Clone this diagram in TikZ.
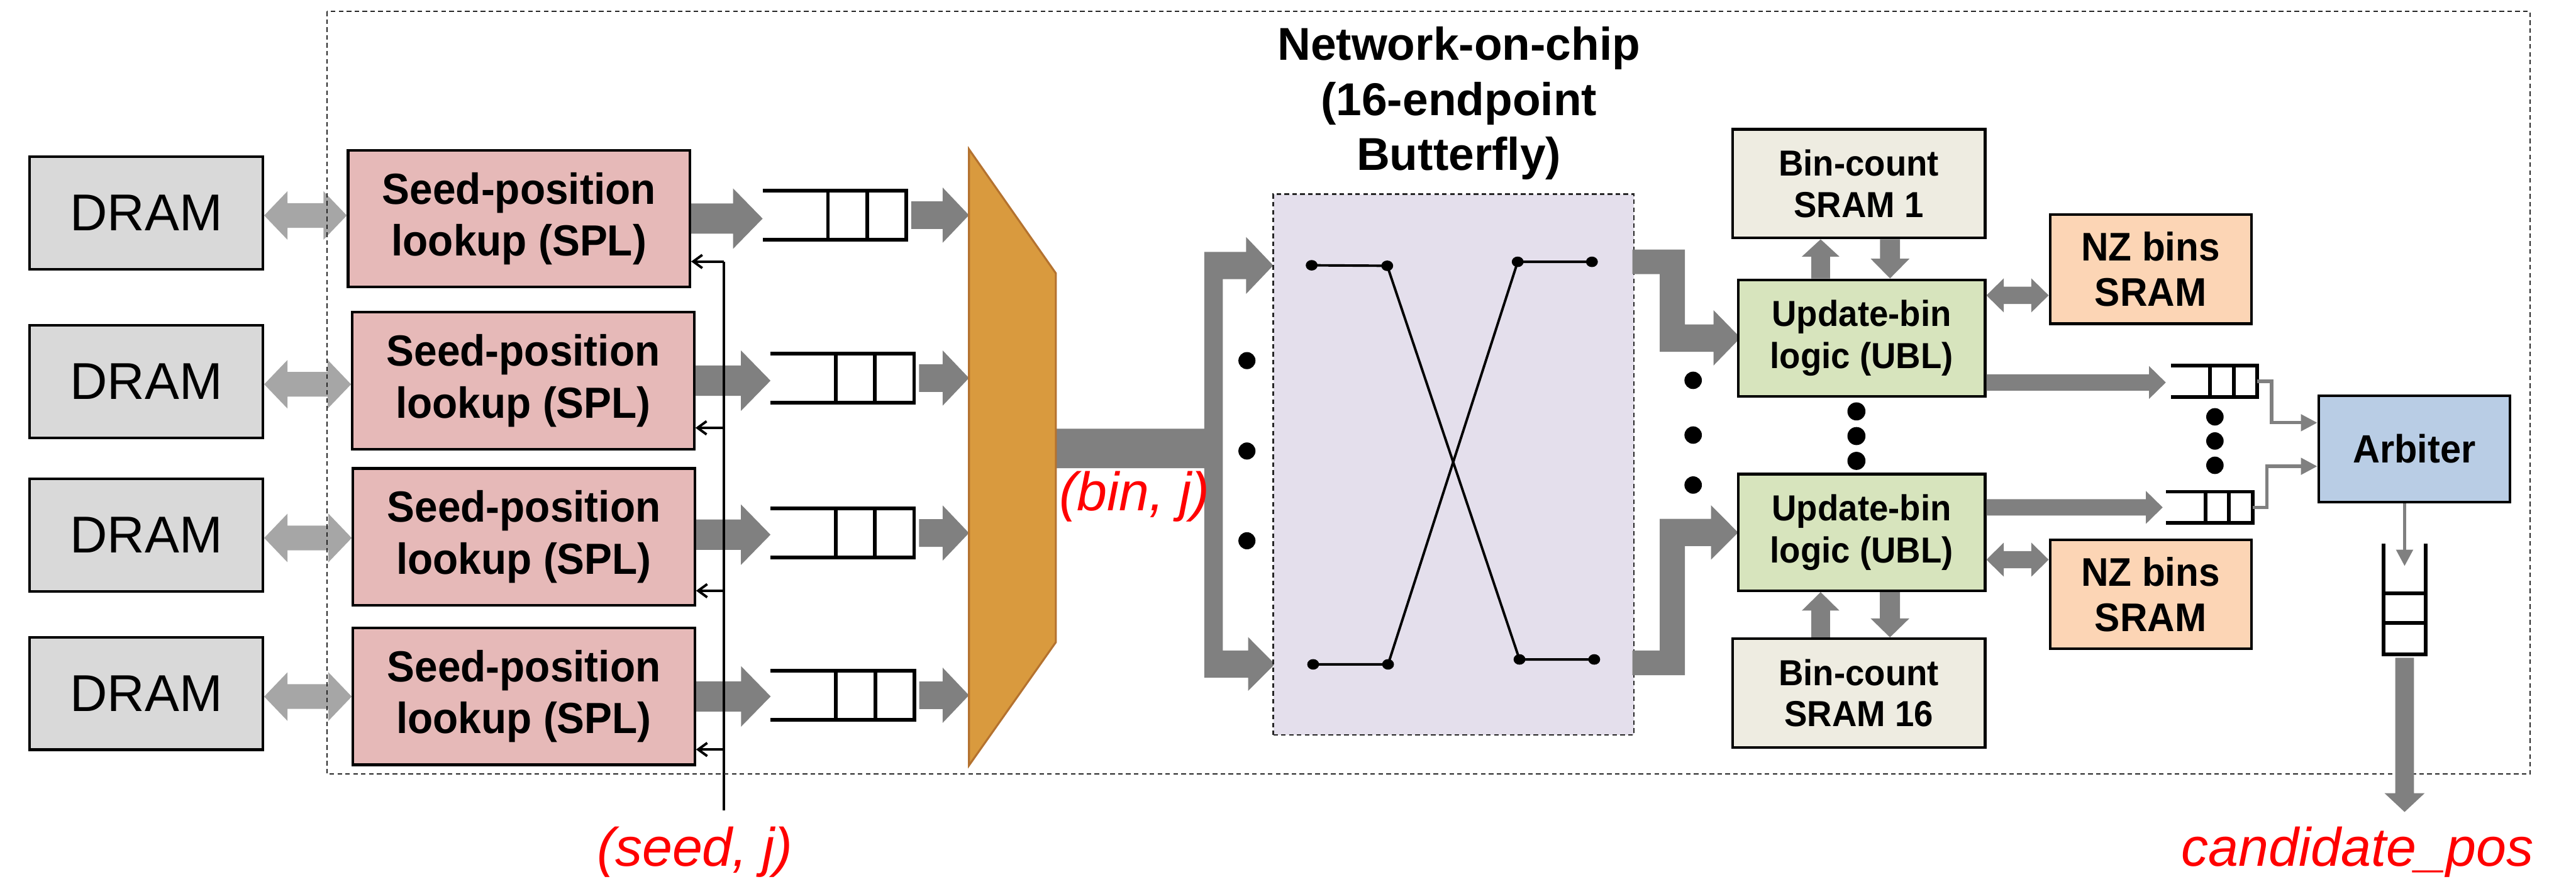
\documentclass[tikz,border=0pt]{standalone}
\usepackage{fontspec}
\setmainfont{Liberation Sans}
\newfontfamily\condf[FakeStretch=0.95]{Liberation Sans}
\usetikzlibrary{calc,arrows.meta}
\definecolor{dramc}{HTML}{D9D9D9}
\definecolor{splc}{HTML}{E6B9B8}
\definecolor{muxc}{HTML}{D99A3E}
\definecolor{muxd}{HTML}{B4722F}
\definecolor{nocc}{HTML}{E4DFEC}
\definecolor{binc}{HTML}{EEECE1}
\definecolor{ublc}{HTML}{D7E4BD}
\definecolor{nzc}{HTML}{FCD5B5}
\definecolor{arbc}{HTML}{B9CDE5}
\definecolor{dk}{HTML}{808080}
\definecolor{lt}{HTML}{A6A6A6}
% right-pointing block arrow: style, from, to, half shaft, half head, head length
\newcommand\rarrow[6]{\fill[#1] let \p1=#2, \p2=#3 in
  (\x1,\y1+#4pt) -- (\x2-#6pt,\y1+#4pt) -- (\x2-#6pt,\y1+#5pt) -- (\x2,\y1) --
  (\x2-#6pt,\y1-#5pt) -- (\x2-#6pt,\y1-#4pt) -- (\x1,\y1-#4pt) -- cycle;}
% double-headed horizontal block arrow
\newcommand\dharrow[6]{\fill[#1] let \p1=#2, \p2=#3 in
  (\x1,\y1) -- (\x1+#6pt,\y1+#5pt) -- (\x1+#6pt,\y1+#4pt) -- (\x2-#6pt,\y1+#4pt) --
  (\x2-#6pt,\y1+#5pt) -- (\x2,\y1) -- (\x2-#6pt,\y1-#5pt) -- (\x2-#6pt,\y1-#4pt) --
  (\x1+#6pt,\y1-#4pt) -- (\x1+#6pt,\y1-#5pt) -- cycle;}
% upward block arrow
\newcommand\uparr[6]{\fill[#1] let \p1=#2, \p2=#3 in
  (\x1-#4pt,\y1) -- (\x1-#4pt,\y2-#6pt) -- (\x1-#5pt,\y2-#6pt) -- (\x1,\y2) --
  (\x1+#5pt,\y2-#6pt) -- (\x1+#4pt,\y2-#6pt) -- (\x1+#4pt,\y1) -- cycle;}
% downward block arrow
\newcommand\dnarr[6]{\fill[#1] let \p1=#2, \p2=#3 in
  (\x1-#4pt,\y1) -- (\x1-#4pt,\y2+#6pt) -- (\x1-#5pt,\y2+#6pt) -- (\x1,\y2) --
  (\x1+#5pt,\y2+#6pt) -- (\x1+#4pt,\y2+#6pt) -- (\x1+#4pt,\y1) -- cycle;}
% horizontal queue, open on the left
\newcommand\hqueue[1]{%
  \draw[qline] (#1.north west) -- (#1.north east) -- (#1.south east) -- (#1.south west);
  \draw[qline] ($(#1.north west)!0.455!(#1.north east)$) -- ($(#1.south west)!0.455!(#1.south east)$);
  \draw[qline] ($(#1.north west)!0.728!(#1.north east)$) -- ($(#1.south west)!0.728!(#1.south east)$);}
\begin{document}
\begin{tikzpicture}[x=1pt,y=-1pt,
  box/.style={draw=black,line width=1.6pt,inner sep=0pt,align=center},
  dramb/.style={box,fill=dramc,minimum width=142pt,minimum height=68.4pt,font=\fontsize{31.5}{36}\selectfont},
  splb/.style={box,fill=splc,minimum width=208pt,minimum height=83.2pt,font=\condf\bfseries\fontsize{26.5}{31.6}\selectfont},
  binb/.style={box,fill=binc,minimum width=153.7pt,minimum height=66.1pt,font=\condf\bfseries\fontsize{22}{25}\selectfont},
  ublb/.style={box,fill=ublc,minimum width=150.3pt,minimum height=71pt,font=\condf\bfseries\fontsize{22}{25.6}\selectfont},
  nzb/.style={box,fill=nzc,minimum width=122.5pt,minimum height=66.4pt,font=\condf\bfseries\fontsize{24.3}{27.6}\selectfont},
  arbb/.style={box,fill=arbc,minimum width=116.4pt,minimum height=64.9pt,font=\condf\bfseries\fontsize{24}{28}\selectfont},
  qn/.style={inner sep=0pt,minimum width=87pt,minimum height=29.5pt},
  sqn/.style={inner sep=0pt,minimum width=52.3pt,minimum height=18.6pt},
  qline/.style={line width=2.2pt,black},
  redlab/.style={text=red,font=\itshape\fontsize{33}{38}\selectfont,inner sep=0pt,anchor=base},
  blk/.style={fill=dk},
  lgt/.style={fill=lt},
  thinarr/.style={draw=dk,line width=2pt,-{Triangle[length=10pt,width=10pt]}},
  fbarr/.style={line width=1.5pt,-{Straight Barb[length=5.5pt,width=8pt]}},
  dotted box/.style={draw=black!85,line width=0.8pt,dash pattern=on 2.8pt off 2pt},
]
\useasboundingbox (0,0) rectangle (1568,534.7);

% ---------- left column ----------
\node[dramb] (dram1) at (89,129.5) {DRAM};
\node[dramb] (dram2) at (89,232.1) {DRAM};
\node[dramb] (dram3) at (89,325.5) {DRAM};
\node[dramb] (dram4) at (89,421.9) {DRAM};

\node[splb] (spl1) at (315.9,133) {Seed-position\\lookup (SPL)};
\node[splb] (spl2) at (318.5,231.6) {Seed-position\\lookup (SPL)};
\node[splb] (spl3) at (318.9,326.6) {Seed-position\\lookup (SPL)};
\node[splb] (spl4) at (318.9,423.7) {Seed-position\\lookup (SPL)};

\node[qn] (q1) at (507.9,130.9) {};
\node[qn] (q2) at (512.7,230) {};
\node[qn] (q3) at (512.7,324.3) {};
\node[qn] (q4) at (512.8,423) {};
\hqueue{q1}\hqueue{q2}\hqueue{q3}\hqueue{q4}

\node[inner sep=0pt,minimum width=52.5pt,minimum height=374.5pt] (mux) at (616.25,278.25) {};

% DRAM <-> SPL
\dharrow{lgt}{($(dram1.east)+(0,1.6)$)}{(spl1.west)}{7.5}{14.8}{14.2}
\dharrow{lgt}{($(dram2.east)+(0,1.7)$)}{(spl2.west)}{7.5}{14.8}{14.2}
\dharrow{lgt}{($(dram3.east)+(0,1.8)$)}{(spl3.west)}{7.5}{14.8}{14.2}
\dharrow{lgt}{($(dram4.east)+(0,1.9)$)}{(spl4.west)}{7.5}{14.8}{14.2}

% SPL -> queue -> mux
\rarrow{blk}{(spl1.east)}{(q1.west)}{9.2}{18.4}{18}
\rarrow{blk}{(spl2.east)}{(q2.west)}{9.2}{18.4}{18}
\rarrow{blk}{($(spl3.east)+(0,-1.3)$)}{(q3.west)}{9.2}{18.4}{18}
\rarrow{blk}{(spl4.east)}{(q4.west)}{9.2}{18.4}{18}
\rarrow{blk}{($(q1.east)+(3,0)$)}{(mux.west)}{8.4}{16.8}{16}
\rarrow{blk}{($(q2.east)+(3,0)$)}{(mux.west)}{8.4}{16.8}{16}
\rarrow{blk}{($(q3.east)+(3,0)$)}{(mux.west)}{8.4}{16.8}{16}
\rarrow{blk}{($(q4.east)+(3,0)$)}{(mux.west)}{8.4}{16.8}{16}

% feedback (seed, j)
\coordinate (fbtop) at (440.5,159.1);
\coordinate (fbbot) at (440.5,493);
\draw[line width=1.5pt] (fbtop) -- (fbbot);
\draw[fbarr] (fbtop) -- (spl1.east |- fbtop);
\draw[fbarr] (fbbot |- 0,260.3) -- (spl2.east |- 0,260.3);
\draw[fbarr] (fbbot |- 0,359.4) -- (spl3.east |- 0,359.4);
\draw[fbarr] (fbbot |- 0,456) -- (spl4.east |- 0,456);

% mux -> NoC bracket arrow
\fill[blk] (642.5,260.8) -- (733,260.8) -- (733,153.3) -- (758.5,153.3) -- (758.5,144.2) -- (775,161.5)
  -- (758.5,178.8) -- (758.5,169.8) -- (744.3,169.8) -- (744.3,395.8) -- (759.7,395.8) -- (759.7,387.6)
  -- (776,404) -- (759.7,420.4) -- (759.7,412.3) -- (733,412.3) -- (733,284.9) -- (642.5,284.9) -- cycle;

% mux
\draw[fill=muxc,draw=muxd,line width=1.2pt] (mux.north west) -- ($(mux.north east)+(0,75.5)$)
  -- ($(mux.south east)+(0,-75)$) -- (mux.south west) -- cycle;

\foreach \yy in {219.4,274.4,329} \fill (759,\yy) circle (5.2pt);

% ---------- NoC ----------
\node[dotted box,fill=nocc,minimum width=219.5pt,minimum height=329pt,inner sep=0pt] (noc) at (884.75,282.6) {};
\node[font=\bfseries\fontsize{28}{33.5}\selectfont,align=center,inner sep=0pt] (noct) at (888,63)
  {Network-on-chip\\(16-endpoint\\Butterfly)};
\coordinate (b1) at (798.4,161.4);
\coordinate (b2) at (844.4,161.7);
\coordinate (b3) at (923.8,159.3);
\coordinate (b4) at (969,159.3);
\coordinate (b5) at (799.3,404.2);
\coordinate (b6) at (844.9,404.2);
\coordinate (b7) at (924.9,401.2);
\coordinate (b8) at (970.4,401.2);
\draw[line width=1.5pt] (b1) -- (b2) -- (b7) -- (b8);
\draw[line width=1.5pt] (b4) -- (b3) -- (b6) -- (b5);
\foreach \bb in {b1,b2,b3,b4,b5,b6,b7,b8} \fill (\bb) ellipse (3.6pt and 3.2pt);

% NoC -> UBL step arrows
\fill[blk] (993.6,151.8) -- (1025.6,151.8) -- (1025.6,197.4) -- (1043,197.4) -- (1043,188.7) -- (1059.4,205.5)
  -- (1043,222.4) -- (1043,214) -- (1010.3,214) -- (1010.3,166.8) -- (993.6,166.8) -- cycle;
\fill[blk] (993.6,395.8) -- (1010.3,395.8) -- (1010.3,315.7) -- (1041.5,315.7) -- (1041.5,307.4) -- (1058,324)
  -- (1041.5,340.5) -- (1041.5,332.2) -- (1025.6,332.2) -- (1025.6,410.8) -- (993.6,410.8) -- cycle;
\foreach \yy in {231.4,264.7,295.1} \fill (1030.6,\yy) circle (5.3pt);

% ---------- right part ----------
\node[binb] (bc1) at (1131.45,111.75) {Bin-count\\SRAM 1};
\node[binb] (bc16) at (1131.45,421.6) {Bin-count\\SRAM 16};
\node[ublb] (ubl1) at (1133.15,205.7) {Update-bin\\logic (UBL)};
\node[ublb] (ubl2) at (1133.15,323.95) {Update-bin\\logic (UBL)};
\node[nzb] (nz1) at (1309.05,163.75) {NZ bins\\SRAM};
\node[nzb] (nz2) at (1309.05,361.55) {NZ bins\\SRAM};
\node[arbb] (arb) at (1469.5,273.15) {Arbiter};
\node[sqn] (sq1) at (1347.65,232) {};
\node[sqn] (sq2) at (1344.75,308.65) {};
\hqueue{sq1}\hqueue{sq2}
\node[inner sep=0pt,minimum width=25.5pt,minimum height=67pt] (oq) at (1463.65,364.4) {};
\draw[qline] (oq.north west) -- (oq.south west) -- (oq.south east) -- (oq.north east);
\draw[qline] ($(oq.north west)!0.448!(oq.south west)$) -- ($(oq.north east)!0.448!(oq.south east)$);
\draw[qline] ($(oq.north west)!0.716!(oq.south west)$) -- ($(oq.north east)!0.716!(oq.south east)$);

\foreach \yy in {250.3,265.3,280.4} \fill (1130,\yy) circle (5.5pt);
\foreach \yy in {253.6,268.3,283.1} \fill (1348.2,\yy) circle (5.3pt);

% UBL <-> bin-count SRAMs
\uparr{blk}{($(ubl1.north)+(-24.95,0)$)}{(bc1.south)}{5.7}{11.4}{10.5}
\dnarr{blk}{($(bc1.south)+(19,0)$)}{(ubl1.north)}{6.1}{11.8}{12}
\uparr{blk}{($(bc16.north)+(-23.25,0)$)}{(ubl2.south)}{5.7}{11.4}{11.2}
\dnarr{blk}{($(ubl2.south)+(17.25,0)$)}{(bc16.north)}{6.1}{11.8}{11.5}

% UBL <-> NZ bins
\dharrow{blk}{($(ubl1.east)+(0,-26)$)}{(nz1.west)}{5.25}{10.4}{10.6}
\dharrow{blk}{($(ubl2.east)+(0,16.55)$)}{(nz2.west)}{5.25}{10.4}{10.6}

% UBL -> queues
\rarrow{blk}{($(ubl1.east)+(0,27)$)}{($(sq1.west)+(-3,0)$)}{5}{10}{10.2}
\rarrow{blk}{($(ubl2.east)+(0,-15.25)$)}{($(sq2.west)+(-2,0)$)}{5}{10}{10.2}

% queues -> arbiter -> output
\draw[thinarr] (sq1.east) -- ++(8.7,0) |- ($(arb.west)+(0,-15.95)$);
\draw[thinarr] (sq2.east) -- ++(8.8,0) |- ($(arb.west)+(0,10.55)$);
\draw[thinarr] (arb.south -| oq.north) -- ($(oq.center)+(0,-20)$);

% outer dashed frame
\draw[dotted box] (199,7) rectangle (1540,471);

\coordinate (outend) at (1464.2,494);
\dnarr{blk}{($(oq.south)+(0,2.1)$)}{(outend)}{5.7}{12.2}{11.4}

% labels
\node[redlab] (seedl) at (423,527) {(seed, j)};
\node[redlab] (binl) at (690.5,310.8) {(bin, j)};
\node[redlab] (candl) at (1435,527) {candidate\_pos};
\end{tikzpicture}
\end{document}
